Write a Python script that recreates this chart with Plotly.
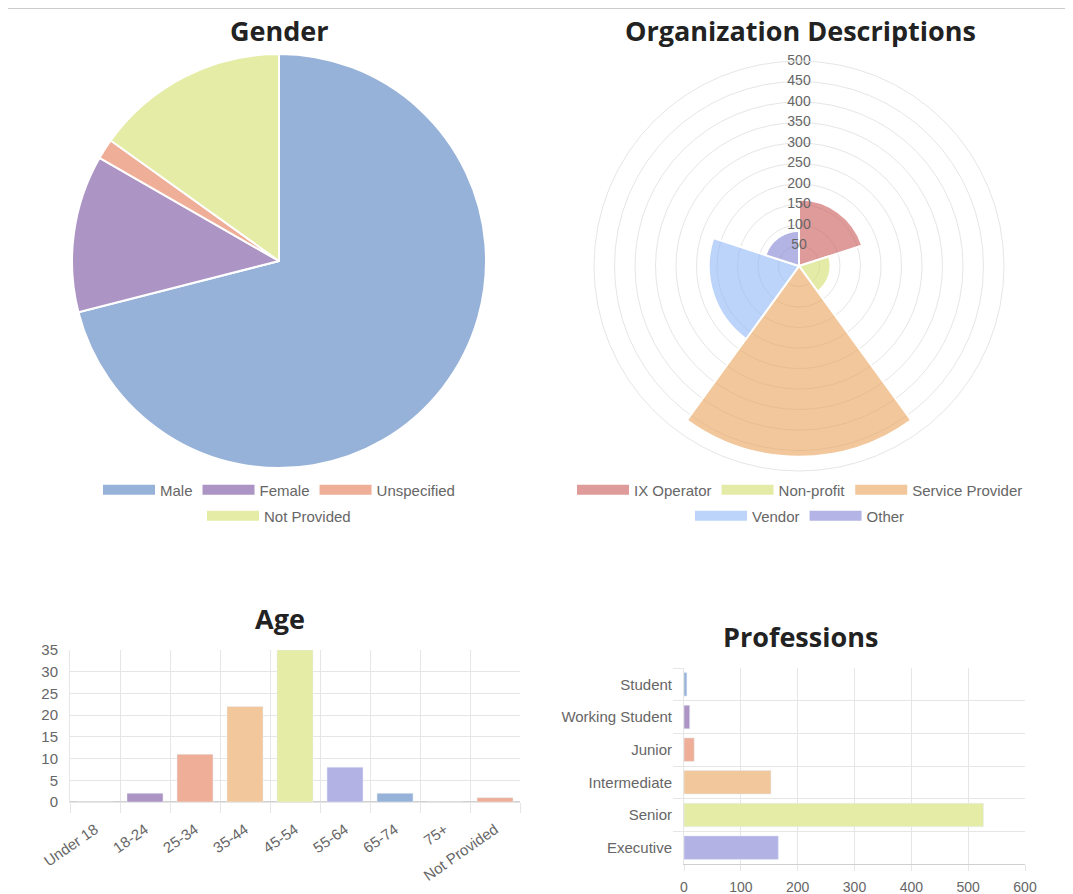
import plotly.graph_objects as go

W, H = 1073, 894
OFF = 8  # page body margin the figure sits behind

# ---------------- data ----------------
gender_labels = ["Male", "Female", "Unspecified", "Not Provided"]
gender_values = [625, 108, 14, 133]

org_labels = ["IX Operator", "Non-profit", "Service Provider", "Vendor", "Other"]
org_values = [162, 77, 465, 220, 86]
org_ticks = [50, 100, 150, 200, 250, 300, 350, 400, 450, 500]

age_labels = ["Under 18", "18-24", "25-34", "35-44", "45-54", "55-64", "65-74", "75+", "Not Provided"]
age_values = [0, 2, 11, 22, 35, 8, 2, 0, 1]

prof_labels = ["Student", "Working Student", "Junior", "Intermediate", "Senior", "Executive"]
prof_values = [5, 10, 18, 153, 527, 166]

# ---------------- styles ----------------
palette = ["#97b2d8", "#ac94c5", "#eeae98", "#f1c79b", "#e5eca6", "#b2b2e5"]
gender_colors = ["#97b2d8", "#ac94c5", "#eeae98", "#e5eca6"]
org_fill = ["rgba(202,87,87,0.6)", "rgba(210,222,108,0.6)", "rgba(232,162,88,0.6)",
            "rgba(143,183,247,0.6)", "rgba(130,130,210,0.6)"]
org_swatch = ["#df9a9a", "#e4eba7", "#f1c79b", "#bcd4fa", "#b4b4e6"]
GRID = "#e6e6e6"
TXT = "#666666"
FONT = "Liberation Sans, Arial, sans-serif"
TFONT = "Open Sans, sans-serif"


def px_x(p):
    return (p - OFF) / W


def px_y(p):
    return 1 - (p - OFF) / H


fig = go.Figure()

# ---- Gender pie ----
fig.add_trace(go.Pie(
    labels=gender_labels, values=gender_values, sort=False, direction="clockwise",
    rotation=0, textinfo="none", hoverinfo="label+value",
    marker=dict(colors=gender_colors, line=dict(color="white", width=2)),
    domain=dict(x=[px_x(72), px_x(486)], y=[px_y(468), px_y(54)]),
    showlegend=False,
))

# ---- Organization polar area ----
n = len(org_labels)
step = 360 / n
fig.add_trace(go.Barpolar(
    r=org_values, theta=[i * step + step / 2 for i in range(n)], width=[step] * n,
    marker=dict(color=org_fill, line=dict(color="white", width=2)),
    text=org_labels, hoverinfo="text+r", showlegend=False, subplot="polar",
))
fig.add_trace(go.Scatterpolar(
    r=org_ticks, theta=[0] * len(org_ticks), mode="text",
    text=[str(t) for t in org_ticks], textposition="middle center",
    textfont=dict(family=FONT, size=14, color=TXT), hoverinfo="skip",
    showlegend=False, subplot="polar",
))

# ---- Age bars ----
fig.add_trace(go.Bar(
    x=age_labels, y=age_values,
    marker=dict(color=[palette[i % 6] for i in range(len(age_labels))]),
    showlegend=False, xaxis="x", yaxis="y",
))

# ---- Professions bars ----
fig.add_trace(go.Bar(
    y=prof_labels, x=prof_values, orientation="h",
    marker=dict(color=[palette[i % 6] for i in range(len(prof_labels))]),
    showlegend=False, xaxis="x2", yaxis="y2",
))

# ---- legend swatches (Chart.js style wide boxes) ----
def add_swatches(names, colors, legend):
    for nm, c in zip(names, colors):
        fig.add_trace(go.Scatter(
            x=[None], y=[None], mode="lines", name=nm,
            line=dict(color=c, width=12), legend=legend,
            xaxis="x", yaxis="y", hoverinfo="skip",
        ))

add_swatches(gender_labels[:3], gender_colors[:3], "legend")
add_swatches(gender_labels[3:], gender_colors[3:], "legend2")
add_swatches(org_labels[:3], org_swatch[:3], "legend3")
add_swatches(org_labels[3:], org_swatch[3:], "legend4")

leg_common = dict(orientation="h", xanchor="center", yanchor="middle",
                  font=dict(family=FONT, size=15, color=TXT),
                  itemwidth=52, bgcolor="rgba(0,0,0,0)", tracegroupgap=0)

titles = [("Gender", 279, 31), ("Organization Descriptions", 800, 31),
          ("Age", 280, 618), ("Professions", 800, 636)]
annotations = [dict(text=t, x=px_x(x), y=px_y(y), xref="paper", yref="paper",
                    showarrow=False, xanchor="center", yanchor="middle",
                    font=dict(family=TFONT, size=27, color="#222222", weight=700))
               for t, x, y in titles]

fig.update_layout(
    width=W, height=H, margin=dict(l=0, r=0, t=0, b=0, autoexpand=False),
    paper_bgcolor="white", plot_bgcolor="white",
    font=dict(family=FONT, color=TXT),
    annotations=annotations,
    shapes=[dict(type="line", xref="paper", yref="paper", x0=0, x1=1,
                 y0=px_y(8.5), y1=px_y(8.5), line=dict(color="#cccccc", width=1))],
    legend=dict(x=px_x(279), y=px_y(490), **leg_common),
    legend2=dict(x=px_x(279), y=px_y(516), **leg_common),
    legend3=dict(x=px_x(800), y=px_y(490), **leg_common),
    legend4=dict(x=px_x(800), y=px_y(516), **leg_common),
    polar=dict(
        domain=dict(x=[px_x(594), px_x(1004)], y=[px_y(471), px_y(61)]),
        bgcolor="white", hole=0,
        radialaxis=dict(range=[0, 500], dtick=50, showticklabels=False, ticks="",
                        showline=False, gridcolor=GRID, gridwidth=1),
        angularaxis=dict(rotation=90, direction="clockwise", showticklabels=False,
                         ticks="", showgrid=False, linecolor=GRID, linewidth=1),
    ),
    xaxis=dict(domain=[px_x(70), px_x(520)], anchor="y", type="category",
               tickson="boundaries", ticks="outside", ticklen=10, tickcolor=GRID,
               showgrid=True, gridcolor=GRID, showline=True, linecolor=GRID,
               tickangle=-35, tickfont=dict(size=15, color=TXT), automargin=False,
               ticklabelstandoff=12, fixedrange=True),
    yaxis=dict(domain=[px_y(802), px_y(650)], anchor="x", range=[0, 35], dtick=5,
               showgrid=True, gridcolor=GRID, zeroline=True, zerolinecolor="#d0d0d0",
               showline=True, linecolor=GRID, ticks="outside", ticklen=8,
               tickcolor="white", tickfont=dict(size=15, color=TXT), automargin=False),
    bargap=0.28,
    xaxis2=dict(domain=[px_x(684), px_x(1025)], anchor="y2", range=[0, 600], dtick=100,
                showgrid=True, gridcolor=GRID, zeroline=False, showline=True,
                linecolor="#d0d0d0", ticks="outside", ticklen=6, tickcolor=GRID,
                ticklabelstandoff=4, tickfont=dict(size=14, color=TXT), automargin=False),
    yaxis2=dict(domain=[px_y(864), px_y(668)], anchor="x2", type="category",
                autorange="reversed", tickson="boundaries", ticks="outside",
                ticklen=10, tickcolor=GRID, showgrid=True, gridcolor=GRID,
                showline=True, linecolor=GRID, tickfont=dict(size=15, color=TXT),
                ticklabelstandoff=8, automargin=False),
)

fig.write_html("out.html")
